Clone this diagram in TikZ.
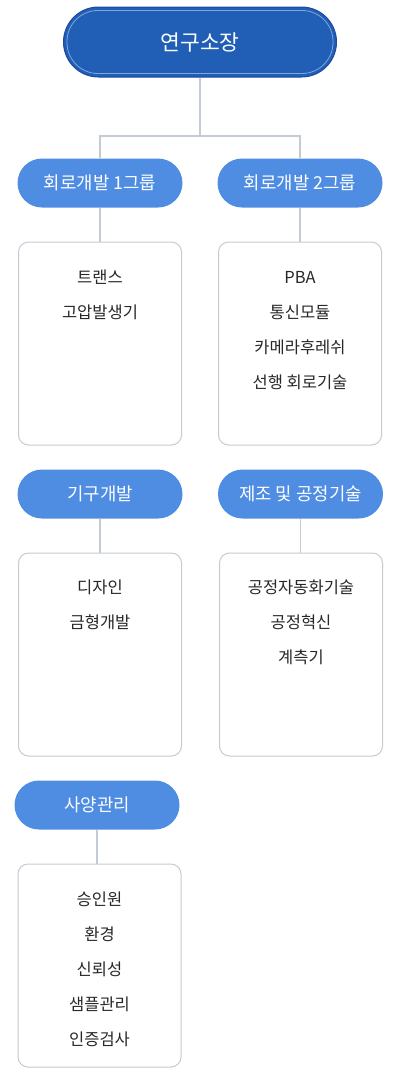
\documentclass[tikz,border=0pt]{standalone}
\usepackage{fontspec}
\setmainfont{Noto Sans CJK KR}
\usetikzlibrary{positioning, calc}
\definecolor{headcol}{RGB}{33,94,182}
\definecolor{headedge}{RGB}{24,76,156}
\definecolor{headline}{RGB}{130,165,220}
\definecolor{groupcol}{RGB}{79,141,227}
\definecolor{linecol}{RGB}{196,203,211}
\definecolor{itemcol}{RGB}{40,40,40}

\begin{document}
\begin{tikzpicture}[
			x=1pt, y=-1pt,
			on grid,
			headbox/.style={
				draw=headedge,
				fill=headcol,
				line width=1pt,
				rounded corners=35pt,
				minimum width=273pt,
				minimum height=70pt,
				text=white,
				font=\fontsize{21.5}{26}\selectfont
			},
			groupbox/.style={
				fill=groupcol,
				rounded corners=24.5pt,
				minimum width=165pt,
				minimum height=49pt,
				text=white,
				font=\fontsize{17.8}{21}\selectfont
			},
			unitbox/.style={
				draw=linecol,
				fill=white,
				line width=1pt,
				rounded corners=10pt,
				minimum width=163pt,
				minimum height=203pt
			},
			itemtext/.style={
				anchor=base,
				align=center,
				inner sep=0pt,
				text=itemcol,
				font=\fontsize{16.5}{35}\selectfont
			},
			linkline/.style={
				draw=linecol,
				line width=1.2pt
			}
			]
			\useasboundingbox (0,0) rectangle (400,1080);
			% Head
			\node[headbox] (head) at (200,42) {연구소장};
			\draw[headline, line width=0.8pt, rounded corners=31pt]
			([xshift=4pt,yshift=4pt]head.south west) rectangle ([xshift=-4pt,yshift=-4pt]head.north east);
			% Groups
			\node[groupbox] (g1) at (100,183) {회로개발 1그룹};
			\node[groupbox] (g2) [right=200pt of g1] {회로개발 2그룹};
			\node[unitbox] (b1) [below=160.5pt of g1] {};
			\node[unitbox] (b2) [right=200pt of b1] {};
			\node[groupbox] (g3) [below=150.5pt of b1] {기구개발};
			\node[groupbox] (g4) [right=200.5pt of g3] {제조 및 공정기술};
			\node[unitbox] (b3) [below=160.5pt of g3] {};
			\node[unitbox] (b4) [right=201pt of b3] {};
			\node[groupbox] (g5) at (97,805) {사양관리};
			\node[unitbox] (b5) at (99.5,965.5) {};
			% Items (base = last line)
			\node[itemtext] (t1) at ([yshift=-76.5pt]b1.north) {트랜스\\고압발생기};
			\node[itemtext] (t2) at ([yshift=-146.5pt]b2.north) {PBA\\통신모듈\\카메라후레쉬\\선행 회로기술};
			\node[itemtext] (t3) at ([yshift=-75.5pt]b3.north) {디자인\\금형개발};
			\node[itemtext] (t4) at ([yshift=-110.5pt]b4.north) {공정자동화기술\\공정혁신\\계측기};
			\node[itemtext] (t5) at ([yshift=-182pt]b5.north) {승인원\\환경\\신뢰성\\샘플관리\\인증검사};
			% Links
			\coordinate (fork) at (200,136);
			\draw[linkline] (head.south) -- (fork) -| (g1.north);
			\draw[linkline] (fork) -| (g2.north);
			\draw[linkline] (g1.south) -- (g1.south |- b1.north);
			\draw[linkline] (g2.south) -- (g2.south |- b2.north);
			\draw[linkline] (g3.south) -- (g3.south |- b3.north);
			\draw[linkline] (g4.south) -- (g4.south |- b4.north);
			\draw[linkline] (g5.south) -- (g5.south |- b5.north);
		\end{tikzpicture}
\end{document}
